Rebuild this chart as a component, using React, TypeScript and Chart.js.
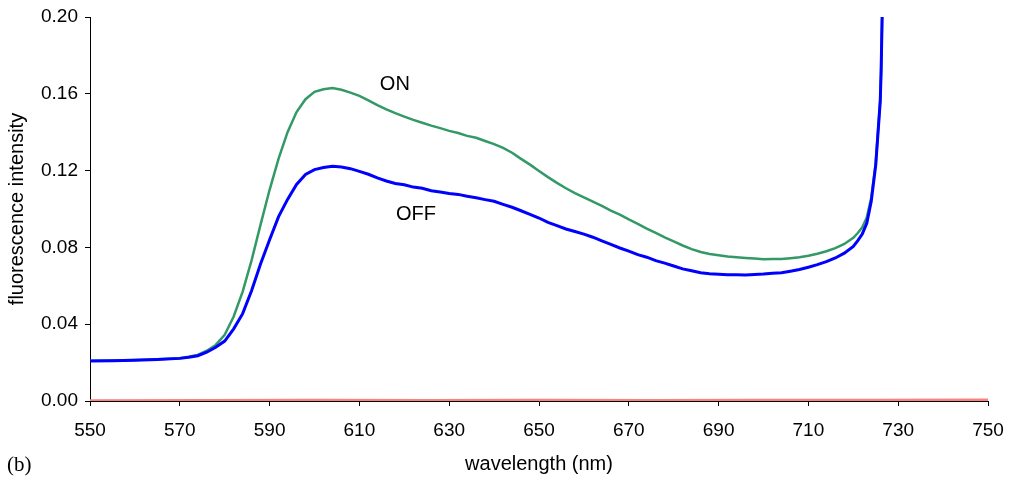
import { useEffect, useRef } from "react";
import { Chart, registerables } from "chart.js";

Chart.register(...registerables);

// Emission wavelength grid (nm)
const wavelengths = [
  550, 555, 560, 565, 570,
  572, 574, 576, 578, 580, 582, 584, 586, 588, 590,
  592, 594, 596, 598, 600, 602, 604, 606, 608, 610,
  612, 614, 616, 618, 620, 622, 624, 626, 628, 630,
  632, 634, 636, 638, 640, 642, 644, 646, 648, 650,
  652, 654, 656, 658, 660, 662, 664, 666, 668, 670,
  672, 674, 676, 678, 680, 682, 684, 686, 688, 690,
  692, 694, 696, 698, 700, 702, 704, 706, 708, 710,
  712, 714, 716, 718, 720,
  721, 722, 723, 724, 725, 726, 726.2, 726.5, 727,
];

// Fluorescence intensity, OFF state
const offIntensity = [
  0.0208, 0.0210, 0.0212, 0.0216, 0.0222,
  0.0228, 0.0236, 0.0254, 0.0280, 0.0312, 0.0376, 0.0455, 0.0575, 0.0715, 0.0840,
  0.0960, 0.1050, 0.1128, 0.1180, 0.1205, 0.1216, 0.1222, 0.1219, 0.1210, 0.1196,
  0.1181, 0.1162, 0.1146, 0.1133, 0.1126, 0.1114, 0.1108, 0.1095, 0.1089, 0.1081,
  0.1076, 0.1066, 0.1059, 0.1049, 0.1040, 0.1024, 0.1009, 0.0991, 0.0972, 0.0953,
  0.0930, 0.0913, 0.0896, 0.0883, 0.0869, 0.0853, 0.0834, 0.0816, 0.0797, 0.0781,
  0.0762, 0.0749, 0.0731, 0.0718, 0.0703, 0.0688, 0.0678, 0.0668, 0.0663, 0.0660,
  0.0657, 0.0657, 0.0656, 0.0659, 0.0661, 0.0665, 0.0668, 0.0676, 0.0685, 0.0697,
  0.0710, 0.0726, 0.0745, 0.0770, 0.0805,
  0.0835, 0.0870, 0.0925, 0.1040, 0.1230, 0.1560, 0.1720, 0.2100, 0.2600,
];

// Fluorescence intensity, ON state
const onIntensity = [
  0.0209, 0.0211, 0.0213, 0.0217, 0.0223,
  0.0230, 0.0240, 0.0262, 0.0292, 0.0345, 0.0440, 0.0570, 0.0734, 0.0920, 0.1100,
  0.1262, 0.1400, 0.1505, 0.1572, 0.1610, 0.1624, 0.1630, 0.1621, 0.1606, 0.1589,
  0.1566, 0.1541, 0.1519, 0.1499, 0.1481, 0.1464, 0.1449, 0.1434, 0.1421, 0.1407,
  0.1396, 0.1381, 0.1371, 0.1354, 0.1338, 0.1318, 0.1293, 0.1261, 0.1231, 0.1198,
  0.1166, 0.1136, 0.1108, 0.1083, 0.1061, 0.1039, 0.1016, 0.0992, 0.0971, 0.0946,
  0.0923, 0.0898, 0.0876, 0.0852, 0.0831, 0.0810, 0.0791, 0.0776, 0.0766, 0.0759,
  0.0753, 0.0749, 0.0745, 0.0742, 0.0738, 0.0739, 0.0740, 0.0744, 0.0749, 0.0757,
  0.0767, 0.0780, 0.0796, 0.0818, 0.0850,
  0.0875, 0.0905, 0.0955, 0.1060, 0.1240, 0.1570, 0.1730, 0.2100, 0.2600,
];

// Blank / background trace
const baselineWavelengths = [550, 575, 600, 625, 650, 675, 700, 725, 750];
const baselineIntensity = [0.0003, 0.0004, 0.0005, 0.0004, 0.0005, 0.0004, 0.0005, 0.0005, 0.0006];

// Curve captions placed in data coordinates
const captionText = ["ON", "OFF"];
const captionX = [617.9, 622.6];
const captionY = [0.1646, 0.0974];

const panelTag = "(b)";

const toPoints = (xs: number[], ys: number[]) => xs.map((x, i) => ({ x, y: ys[i] }));

const captionsPlugin = {
  id: "captions",
  afterDatasetsDraw(chart: any) {
    const { ctx, scales } = chart;
    ctx.save();
    ctx.fillStyle = "#000";
    ctx.font = '20px "Liberation Sans", Arial, sans-serif';
    ctx.textAlign = "center";
    ctx.textBaseline = "middle";
    captionText.forEach((t, i) => {
      ctx.fillText(t, scales.x.getPixelForValue(captionX[i]), scales.y.getPixelForValue(captionY[i]));
    });
    ctx.font = '21px "Liberation Serif", "Times New Roman", serif';
    ctx.textAlign = "left";
    ctx.textBaseline = "alphabetic";
    ctx.fillText(panelTag, 7, 471);
    ctx.restore();
  },
};

export default function App() {
  const canvasRef = useRef<HTMLCanvasElement | null>(null);

  useEffect(() => {
    if (!canvasRef.current) return;
    const font = { family: '"Liberation Sans", Arial, sans-serif', size: 19 };
    const chart = new Chart(canvasRef.current, {
      type: "line",
      data: {
        datasets: [
          {
            label: "OFF",
            data: toPoints(wavelengths, offIntensity),
            borderColor: "#0000FF",
            borderWidth: 3,
            pointRadius: 0,
            tension: 0,
          },
          {
            label: "ON",
            data: toPoints(wavelengths, onIntensity),
            borderColor: "#339966",
            borderWidth: 2.5,
            pointRadius: 0,
            tension: 0,
          },
          {
            label: "blank",
            data: toPoints(baselineWavelengths, baselineIntensity),
            borderColor: "#FF8080",
            borderWidth: 2.5,
            pointRadius: 0,
            tension: 0,
          },
        ],
      },
      options: {
        animation: false,
        responsive: false,
        maintainAspectRatio: false,
        layout: { padding: { top: 17, right: 22, left: 0, bottom: 0 } },
        plugins: { legend: { display: false }, tooltip: { enabled: false } },
        scales: {
          x: {
            type: "linear",
            min: 550,
            max: 750,
            afterFit: (s: any) => {
              s.height = 79;
              s.paddingLeft = 0;
              s.paddingRight = 0;
            },
            ticks: { stepSize: 20, color: "#000", font, padding: 13, maxRotation: 0 },
            grid: { drawOnChartArea: false, tickLength: 5, color: "#000", tickWidth: 1 },
            border: { display: true, color: "#000", width: 1 },
            title: {
              display: true,
              text: "wavelength (nm)",
              color: "#000",
              font: { family: '"Liberation Sans", Arial, sans-serif', size: 20 },
              padding: { top: 0, bottom: 4 },
            },
          },
          y: {
            type: "linear",
            min: 0,
            max: 0.2,
            afterFit: (s: any) => {
              s.width = 90;
              s.paddingTop = 0;
              s.paddingBottom = 0;
            },
            ticks: {
              stepSize: 0.04,
              color: "#000",
              font,
              padding: 7,
              callback: (v: any) => Number(v).toFixed(2),
            },
            grid: { drawOnChartArea: false, tickLength: 5, color: "#000", tickWidth: 1 },
            border: { display: true, color: "#000", width: 1 },
            title: {
              display: true,
              text: "fluorescence intensity",
              color: "#000",
              font: { family: '"Liberation Sans", Arial, sans-serif', size: 20 },
              padding: { top: 5, bottom: 0 },
            },
          },
        },
      },
      plugins: [captionsPlugin],
    });
    return () => chart.destroy();
  }, []);

  return (
    <div style={{ position: "fixed", left: 0, top: 0, width: 1010, height: 480, background: "#fff" }}>
      <canvas ref={canvasRef} width={1010} height={480} />
    </div>
  );
}
